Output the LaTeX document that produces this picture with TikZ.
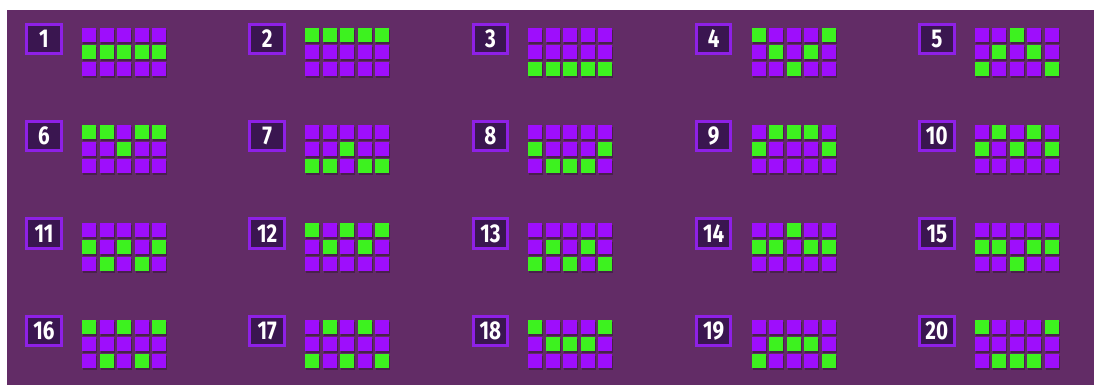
\documentclass[tikz,border=0pt]{standalone}
\usepackage{fontspec}
\newfontfamily\badgefont{Fira Sans}[FakeStretch=0.8]
\usepackage{tikz}
\usepackage{xcolor}
\usetikzlibrary{positioning}

\definecolor{bgplum}{HTML}{622C66}
\definecolor{cellviolet}{HTML}{9E0EFC}
\definecolor{cellgreen}{HTML}{3DF21F}
\definecolor{badgedark}{HTML}{3A1650}
\definecolor{badgerim}{HTML}{8E20E6}

\begin{document}
\begin{tikzpicture}[
          x=0.03cm, y=-0.03cm,
          badge/.style={draw=badgerim, line width=2.6pt, fill=badgedark, minimum width=1.04cm, minimum height=0.88cm, inner sep=0pt, text=white, font=\badgefont\bfseries\fontsize{22}{22}\selectfont},
          cell/.style={fill=cellviolet, minimum size=0.42cm, inner sep=0pt},
          hit/.style={cell, fill=cellgreen}
      ]
        \useasboundingbox[fill=white] (0,0) rectangle (1094,385);
        \fill[bgplum] (7,10) rectangle (1094,385);
        % one badge and one 5x3 grid per line; the digits give the green row of each reel
        \foreach \n/\a/\b/\c/\d/\e in {1/1/1/1/1/1, 2/0/0/0/0/0, 3/2/2/2/2/2, 4/0/1/2/1/0, 5/2/1/0/1/2,
            6/0/0/1/0/0, 7/2/2/1/2/2, 8/1/2/2/2/1, 9/1/0/0/0/1, 10/1/0/1/0/1,
            11/1/2/1/2/1, 12/0/1/0/1/0, 13/2/1/2/1/2, 14/1/1/0/1/1, 15/1/1/2/1/1,
            16/0/2/0/2/0, 17/2/0/2/0/2, 18/0/1/1/1/0, 19/2/1/1/1/2, 20/0/2/2/2/0} {
          \pgfmathtruncatemacro\col{mod(\n-1,5)}
          \pgfmathtruncatemacro\row{div(\n-1,5)}
          \pgfmathsetmacro\bx{44+223.2*\col}
          \pgfmathsetmacro\by{39+97.3*\row}
          \node[badge] (b\n) at (\bx,\by) {\n};
          \foreach \i/\r in {0/\a, 1/\b, 2/\c, 3/\d, 4/\e} {
            \foreach \j in {0,1,2} {
              \edef\kind{\ifnum\j=\r hit\else cell\fi}
              \fill[black, opacity=0.25] (\bx+45+17.5*\i-6, \by-4+17*\j-5) rectangle ++(14,14);
              \node[\kind] (c\n-\i-\j) at (\bx+45+17.5*\i, \by-4+17*\j) {};
            }
          }
        }
      \end{tikzpicture}
\end{document}
